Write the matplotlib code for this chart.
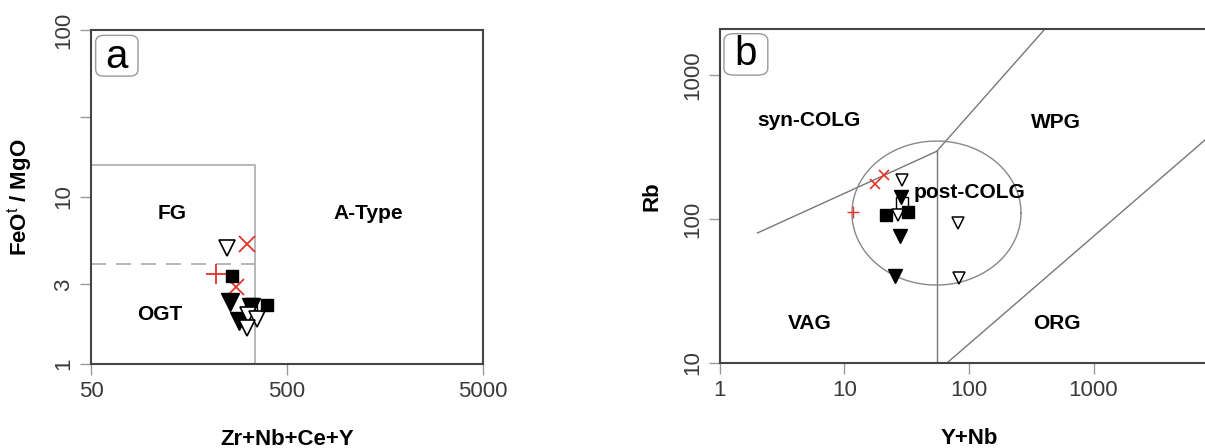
import numpy as np
import matplotlib.pyplot as plt
from matplotlib import font_manager
from matplotlib.patches import FancyBboxPatch

names = {f.name for f in font_manager.fontManager.ttflist}
narrow = 'Liberation Sans Narrow' if 'Liberation Sans Narrow' in names else 'Liberation Sans'
plt.rcParams['font.family'] = ['Liberation Sans', 'DejaVu Sans']
plt.rcParams['mathtext.fontset'] = 'custom'
plt.rcParams['mathtext.rm'] = 'Liberation Sans'
plt.rcParams['mathtext.bf'] = 'Liberation Sans:bold'

# ---- panel a data: Zr+Nb+Ce+Y vs FeOt/MgO
a_tri_open_x = [246, 318, 350, 311]
a_tri_open_y = [4.93, 1.97, 1.85, 1.64]
a_tri_fill_x = [256, 326, 286]
a_tri_fill_y = [2.36, 2.2, 1.82]
a_sq_fill_x = [262, 394]
a_sq_fill_y = [3.37, 2.25]
a_sq_open_x = [328]
a_sq_open_y = [2.28]
a_plus_x = [217]
a_plus_y = [3.46]
a_cross_x = [313, 274]
a_cross_y = [5.21, 2.88]
# FG / A-type boundary
a_box_x = [50, 345, 345]
a_box_y = [15.5, 15.5, 1]
a_dash_x = [50, 345]
a_dash_y = [3.95, 3.95]

# ---- panel b data: Y+Nb vs Rb
b_tri_open_x = [28.8, 26.8, 81, 82.7]
b_tri_open_y = [187, 107, 94, 38.7]
b_tri_fill_x = [28.3, 27.9, 25.6]
b_tri_fill_y = [143, 76, 40]
b_sq_fill_x = [21.4, 32.4]
b_sq_fill_y = [107, 111]
b_sq_open_x = [28.8]
b_sq_open_y = [130]
b_plus_x = [11.8]
b_plus_y = [112]
b_cross_x = [17.7, 20.6]
b_cross_y = [174, 202]
# tectonic boundaries
syn_vag_x = [2, 55]
syn_vag_y = [80, 295]
vag_wpg_x = [55, 410]
vag_wpg_y = [295, 2100]
vert_x = [55, 55]
vert_y = [295, 10]
org_wpg_x = [66.5, 7870]
org_wpg_y = [10, 354]
# post-COLG field (ellipse in log space)
ell_cx, ell_cy = 54.8, 110
ell_rx, ell_ry = 0.679, 0.5

red = '#e5332a'
grey = '#777777'

fig = plt.figure(figsize=(12.05, 4.48), dpi=100)
axa = fig.add_axes([0.0755, 0.1875, 0.3253, 0.7455])
axb = fig.add_axes([0.5975, 0.1897, 0.4133, 0.7455])

for ax in (axa, axb):
    ax.set_xscale('log')
    ax.set_yscale('log')
    for s in ax.spines.values():
        s.set_color('#444444')
        s.set_linewidth(1.5)
    ax.minorticks_off()
    ax.tick_params(direction='out', length=8, width=1, color='#999999',
                   labelsize=16, labelcolor='#3a3a3a', pad=4)
    ax.tick_params(axis='y', labelrotation=90)

# ---- panel a
axa.set_xlim(50, 5000)
axa.set_ylim(1, 100)
axa.plot(a_box_x, a_box_y, color='#aaaaaa', lw=1.2)
axa.plot(a_dash_x, a_dash_y, color='#aaaaaa', lw=1.2, dashes=(9, 6))
axa.plot(a_plus_x, a_plus_y, '+', color=red, ms=15, mew=1.3)
axa.plot(a_cross_x, a_cross_y, 'x', color=red, ms=11, mew=1.3)
axa.plot(a_sq_open_x, a_sq_open_y, 's', mfc='white', mec='black', ms=8, mew=1)
axa.plot(a_tri_fill_x, a_tri_fill_y, 'v', color='black', ms=13)
axa.plot(a_tri_open_x, a_tri_open_y, 'v', mfc='white', mec='black', ms=12, mew=1.2)
axa.plot(a_sq_fill_x, a_sq_fill_y, 's', color='black', ms=8)
axa.set_xticks([50, 500, 5000])
axa.set_xticklabels(['50', '500', '5000'], family=narrow)
axa.set_yticks([1, 3, 10, 30, 100])
axa.set_yticklabels(['1', '3', '10', '', '100'], family=narrow, va='center')
axa.set_xlabel('Zr+Nb+Ce+Y', fontsize=16, fontweight='bold', labelpad=20)
axa.set_ylabel(r'FeO$^{\mathrm{t}}$ / MgO', fontsize=16, fontweight='bold', labelpad=14)
axa.text(0.207, 0.452, 'FG', transform=axa.transAxes, fontsize=15, fontweight='bold',
         ha='center', va='center')
axa.text(0.707, 0.452, 'A-Type', transform=axa.transAxes, fontsize=15, fontweight='bold',
         ha='center', va='center')
axa.text(0.176, 0.147, 'OGT', transform=axa.transAxes, fontsize=15, fontweight='bold',
         ha='center', va='center')
axa.add_patch(FancyBboxPatch((0.012, 0.862), 0.108, 0.122, transform=axa.transAxes,
                             boxstyle='round,pad=0,rounding_size=0.02',
                             fc='white', ec='#999999', lw=1))
axa.text(0.0655, 0.918, 'a', transform=axa.transAxes, fontsize=29,
         ha='center', va='center')

# ---- panel b
axb.set_xlim(1, 10000)
axb.set_ylim(10, 2085)
for xs, ys in [(syn_vag_x, syn_vag_y), (vag_wpg_x, vag_wpg_y),
               (vert_x, vert_y), (org_wpg_x, org_wpg_y)]:
    axb.plot(xs, ys, color=grey, lw=1)
t = np.linspace(0, 2 * np.pi, 200)
axb.plot(10 ** (np.log10(ell_cx) + ell_rx * np.cos(t)),
         10 ** (np.log10(ell_cy) + ell_ry * np.sin(t)), color='#888888', lw=1)
axb.plot(b_plus_x, b_plus_y, '+', color=red, ms=9, mew=1)
axb.plot(b_cross_x, b_cross_y, 'x', color=red, ms=7, mew=1.2)
axb.plot(b_sq_open_x, b_sq_open_y, 's', mfc='white', mec='black', ms=8, mew=1)
axb.plot(b_tri_fill_x, b_tri_fill_y, 'v', color='black', ms=10)
axb.plot(b_tri_open_x, b_tri_open_y, 'v', mfc='white', mec='black', ms=9, mew=1.1)
axb.plot(b_sq_fill_x, b_sq_fill_y, 's', color='black', ms=8)
axb.set_xticks([1, 10, 100, 1000])
axb.set_xticklabels(['1', '10', '100', '1000'], family=narrow)
axb.set_yticks([10, 100, 1000])
axb.set_yticklabels(['10', '100', '1000'], family=narrow, va='center')
axb.set_xlabel('Y+Nb', fontsize=16, fontweight='bold', labelpad=20)
axb.set_ylabel('Rb', fontsize=16, fontweight='bold', labelpad=14)
axb.text(0.178, 0.725, 'syn-COLG', transform=axb.transAxes, fontsize=15,
         fontweight='bold', ha='center', va='center')
axb.text(0.675, 0.72, 'WPG', transform=axb.transAxes, fontsize=15,
         fontweight='bold', ha='center', va='center')
axb.text(0.388, 0.51, 'post-COLG', transform=axb.transAxes, fontsize=15,
         fontweight='bold', ha='left', va='center')
axb.text(0.18, 0.119, 'VAG', transform=axb.transAxes, fontsize=15,
         fontweight='bold', ha='center', va='center')
axb.text(0.677, 0.119, 'ORG', transform=axb.transAxes, fontsize=15,
         fontweight='bold', ha='center', va='center')
axb.add_patch(FancyBboxPatch((0.008, 0.862), 0.088, 0.124, transform=axb.transAxes,
                             boxstyle='round,pad=0,rounding_size=0.02',
                             fc='white', ec='#999999', lw=1))
axb.text(0.0516, 0.925, 'b', transform=axb.transAxes, fontsize=29,
         ha='center', va='center')

fig.savefig('out.png', dpi=100)
